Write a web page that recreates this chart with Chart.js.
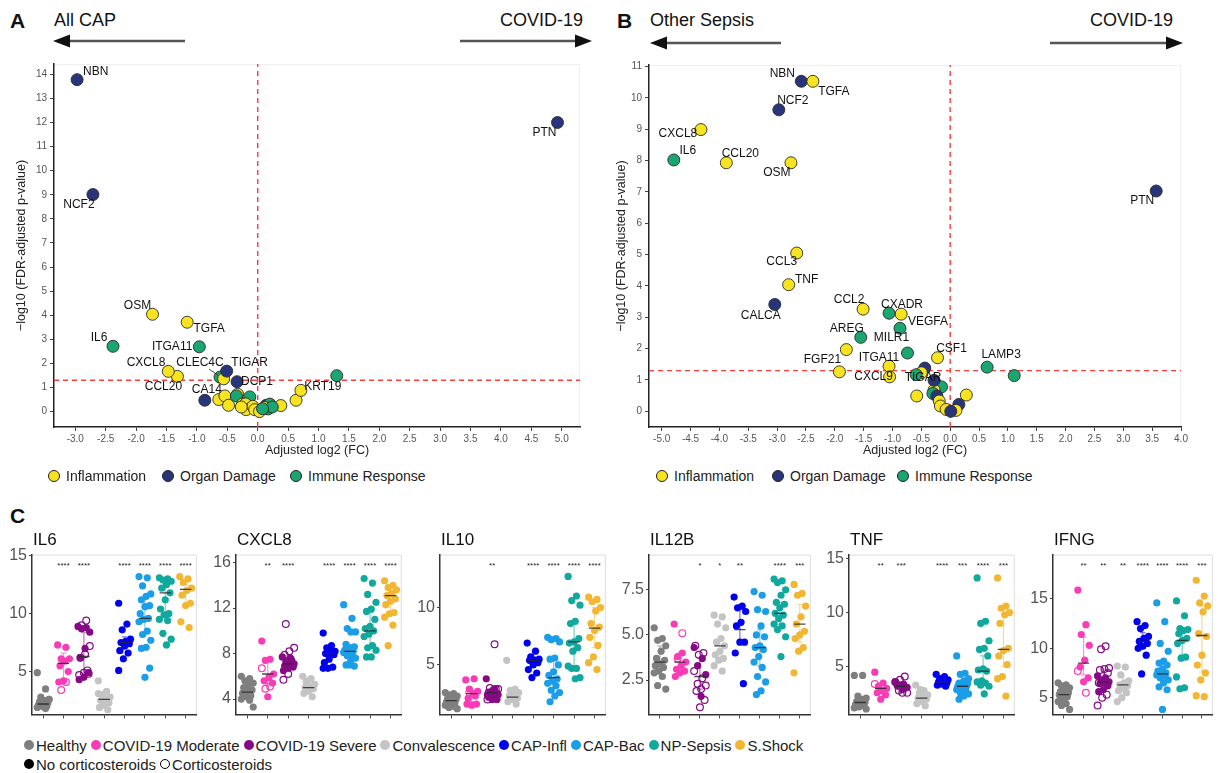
<!DOCTYPE html>
<html>
<head>
<meta charset="utf-8">
<title>COVID-19 vs CAP and sepsis biomarkers</title>
<script src="https://cdn.jsdelivr.net/npm/chart.js"></script>
<style>
  body { margin: 0; background: #fff; font-family: "Liberation Sans", Arial, sans-serif; color: #111; }
  #page { position: relative; width: 1218px; height: 773px; overflow: hidden; }
  #page canvas, .t { position: absolute; }
  .t { line-height: 1; white-space: nowrap; }
  .dot { display: inline-block; border-radius: 50%; box-sizing: border-box; flex: none; }
  .leg { position: absolute; display: flex; align-items: center; height: 16px; line-height: 1; white-space: nowrap; color: #222; }
</style>
</head>
<body>
<div id="page">
  <div class="t" style="left:10px;top:10px;font-size:21px;font-weight:bold">A</div>
  <div class="t" style="left:54px;top:11px;font-size:18px">All CAP</div>
  <div class="t" style="left:500px;top:11px;font-size:18px">COVID-19</div>
  <div class="t" style="left:617px;top:10px;font-size:21px;font-weight:bold">B</div>
  <div class="t" style="left:650px;top:11px;font-size:18px">Other Sepsis</div>
  <div class="t" style="left:1090px;top:11px;font-size:18px">COVID-19</div>
  <svg class="t" style="left:0;top:0" width="1218" height="60">
    <line x1="66" y1="41" x2="185" y2="41" stroke="#555" stroke-width="2.5"/>
    <polygon points="53,41 70,34.5 70,47.5" fill="#111"/>
    <line x1="460" y1="41" x2="578" y2="41" stroke="#555" stroke-width="2.5"/>
    <polygon points="592,41 575,34.5 575,47.5" fill="#111"/>
    <line x1="663" y1="43" x2="781" y2="43" stroke="#555" stroke-width="2.5"/>
    <polygon points="650,43 667,36.5 667,49.5" fill="#111"/>
    <line x1="1050" y1="43" x2="1168" y2="43" stroke="#555" stroke-width="2.5"/>
    <polygon points="1183,43 1166,36.5 1166,49.5" fill="#111"/>
  </svg>
  <div class="t" style="left:10px;top:505px;font-size:21px;font-weight:bold">C</div>
</div>
<script>
// ---------- panels A and B (volcano plots)
const catNames = ['Inflammation', 'Organ Damage', 'Immune Response'];
const catColors = ['#f8e41e', '#29357a', '#19a670'];
const pCut = 1.3;

const genesA = ['', '', '', '', '', '', '', '', '', '', '', '', '', '', '', '', '', '', '', '', '',
  'CA14', 'CLEC4C', '', 'DCP1', 'TIGAR', 'CCL20', 'CXCL8', 'ITGA11', 'IL6', 'TGFA', 'OSM', '', 'KRT19', 'NCF2', 'NBN', 'PTN'];
const fcA = [-0.64, -0.54, -0.48, -0.33, -0.35, -0.13, -0.25, -0.20, -0.19, -0.08, -0.05, 0.03, 0.14, 0.20, 0.17, 0.11, 0.38, 0.24, -0.27, 0.08, 0.63,
  -0.87, -0.62, -0.56, -0.34, -0.51, -1.32, -1.47, -0.96, -2.38, -1.16, -1.73, 1.30, 0.71, -2.71, -2.97, 4.93];
const pA = [0.50, 0.65, 0.26, 0.72, 0.65, 0.61, 0.31, 0.32, 0.08, 0.22, 0.08, 0.00, 0.26, 0.31, 0.11, 0.17, 0.25, 0.19, 0.19, 0.12, 0.47,
  0.47, 1.43, 1.36, 1.24, 1.68, 1.46, 1.67, 2.69, 2.71, 3.71, 4.04, 1.49, 0.88, 9.01, 13.78, 12.00];
const catA = [0, 0, 0, 0, 2, 2, 0, 0, 0, 0, 0, 0, 1, 2, 2, 0, 0, 2, 0, 2, 0,
  1, 2, 0, 1, 1, 0, 0, 2, 2, 0, 0, 2, 0, 1, 1, 1];
const xTicksA = [-3, -2.5, -2, -1.5, -1, -0.5, 0, 0.5, 1, 1.5, 2, 2.5, 3, 3.5, 4, 4.5, 5];
const yTicksA = [0, 1, 2, 3, 4, 5, 6, 7, 8, 9, 10, 11, 12, 13, 14];

const genesB = ['', '', '', '', '', '', '', '', '', '', '', '', '', '', '', '', '', '',
  'NBN', 'TGFA', 'NCF2', 'CXCL8', 'IL6', 'CCL20', 'OSM', 'PTN', 'CCL3', 'TNF', 'CALCA', 'CCL2', 'CXADR', 'VEGFA', 'AREG',
  'MILR1', 'CSF1', 'FGF21', 'ITGA11', 'CXCL9', 'LAMP3', 'TIGAR'];
const fcB = [-0.85, -1.80, 1.11, -0.44, -0.50, -0.59, -0.15, -0.28, -0.30, -0.23, -0.58, 0.28, -0.19, -0.17, 0.15, -0.07, 0.10, 0.01,
  -2.58, -2.38, -2.97, -4.32, -4.79, -3.88, -2.76, 3.57, -2.66, -2.80, -3.04, -1.51, -1.06, -0.87, -1.55,
  -0.74, -0.22, -1.92, -1.06, -1.05, 0.64, -0.28];
const pB = [3.10, 1.97, 1.14, 1.38, 1.23, 1.17, 0.78, 0.68, 0.57, 0.49, 0.49, 0.52, 0.33, 0.17, 0.22, 0.06, 0.03, 0.00,
  10.53, 10.53, 9.62, 8.99, 8.02, 7.93, 7.93, 7.03, 5.05, 4.04, 3.41, 3.26, 3.13, 2.65, 2.36,
  1.86, 1.71, 1.26, 1.44, 1.10, 1.41, 0.99];
const catB = [0, 0, 2, 1, 0, 2, 2, 0, 2, 1, 0, 0, 0, 0, 1, 0, 0, 1,
  1, 0, 1, 0, 2, 0, 0, 1, 0, 0, 1, 0, 2, 2, 2,
  2, 0, 0, 0, 0, 2, 1];
const xTicksB = [-5, -4.5, -4, -3.5, -3, -2.5, -2, -1.5, -1, -0.5, 0, 0.5, 1, 1.5, 2, 2.5, 3, 3.5, 4];
const yTicksB = [0, 1, 2, 3, 4, 5, 6, 7, 8, 9, 10, 11];

// label offsets in px from the point: [dx, dy, align, leader segment]
const labelPosA = {
  NBN: [6, -8, 'left'], NCF2: [-14, 10], PTN: [-13, 10], OSM: [-15, -9], TGFA: [22, 6], IL6: [-14, -9],
  ITGA11: [-7, 0, 'right'], CXCL8: [-3, -9, 'right'], CCL20: [-14, 10], CLEC4C: [-20, -14, 'center', [-11, -8, -2, -2]],
  TIGAR: [23, -8], DCP1: [4, 0, 'left'], CA14: [2, -11], KRT19: [22, -4]
};
const labelPosB = {
  NBN: [-19, -8], TGFA: [21, 10], NCF2: [14, -9], CXCL8: [-23, 4], IL6: [14, -9], CCL20: [14, -9], OSM: [-14, 10],
  PTN: [-14, 10], CCL3: [-15, 9], TNF: [18, -5], CALCA: [-14, 11], CCL2: [-14, -9], CXADR: [13, -9], VEGFA: [28, -7],
  AREG: [-14, -9], MILR1: [-16, -15], CSF1: [14, -9], FGF21: [-17, -12], ITGA11: [-10, -9], CXCL9: [-16, 0],
  TIGAR: [-11, -3], LAMP3: [14, -12]
};

// ---------- panel C (strip plots)
const groups = ['Healthy', 'COVID-19 Moderate', 'COVID-19 Severe', 'Convalescence', 'CAP-Infl', 'CAP-Bac', 'NP-Sepsis', 'S.Shock'];
const grpColors = ['#7f7f7f', '#f93cb5', '#860a86', '#c4c4c4', '#0000ee', '#1b9de8', '#11a89e', '#f2b632'];

const il6Filled = [
  [4.9, 3.5, 2.8, 2.6, 2.5, 2.4, 2.3, 2.2, 2.1, 2.0, 2.0, 1.9, 1.8, 2.3, 2.6],
  [7.3, 7.1, 6.1, 6.1, 5.9, 5.5, 5.0, 4.2, 4.1],
  [8.9, 8.8, 8.7, 8.4, 7.0, 6.2, 4.9, 4.5, 4.3],
  [4.2, 3.3, 3.0, 2.8, 2.6, 2.5, 2.3, 2.1, 1.9, 1.7, 2.9, 3.1],
  [10.9, 9.1, 8.6, 7.8, 7.6, 7.5, 7.4, 7.2, 6.8, 6.6, 6.1, 5.1],
  [13.2, 13.1, 12.4, 11.7, 11.5, 11.2, 10.7, 10.6, 10.0, 9.6, 9.5, 9.3, 8.5, 8.2, 7.7, 7.1, 7.0, 5.3, 4.5],
  [13.1, 13.0, 12.9, 12.8, 12.5, 12.2, 11.8, 11.2, 10.4, 10.0, 9.9, 9.5, 9.4, 8.3, 7.8, 7.3],
  [13.2, 13.0, 12.7, 12.2, 12.0, 11.6, 10.9, 10.7, 9.3, 8.8]
];
const il6Open = [[], [4.1, 3.4], [9.4, 9.0, 7.2, 6.5, 6.2, 4.8, 4.9, 4.7, 5.1], [], [], [], [], []];
const il6Med = [2.2, 5.7, 6.3, 2.6, 7.5, 9.6, 11.8, 12.1];
const il6Lo = [2.0, 4.3, 4.8, 2.2, 7.0, 8.3, 9.8, 10.7];
const il6Hi = [2.6, 6.6, 8.4, 3.1, 8.0, 11.3, 12.8, 12.5];
const il6Stars = ['', '****', '****', '', '****', '****', '****', '****'];
const il6Ticks = [5, 10, 15];

const cxcl8Filled = [
  [6.0, 5.8, 5.6, 5.4, 5.2, 5.0, 4.8, 4.6, 4.5, 4.3, 4.2, 4.0, 3.9, 4.7, 3.3],
  [9.1, 7.5, 7.4, 6.2, 5.9, 5.6, 5.4, 4.2],
  [7.7, 7.6, 7.3, 7.1, 7.0, 6.9, 6.8, 6.7, 6.5, 7.4],
  [6.0, 5.8, 5.5, 5.3, 5.1, 5.0, 4.9, 4.7, 4.5, 4.2, 5.6],
  [9.8, 8.7, 8.5, 8.2, 8.1, 8.0, 7.9, 7.5, 7.2, 6.8, 6.7, 6.7],
  [12.3, 11.1, 10.2, 9.9, 9.9, 8.8, 8.6, 8.5, 8.3, 8.2, 8.2, 8.1, 8.0, 7.8, 7.6, 7.4, 7.0, 6.9, 7.0],
  [14.6, 14.2, 13.2, 12.5, 11.9, 11.7, 11.0, 10.4, 10.2, 10.0, 9.7, 9.5, 8.7, 8.5, 8.3, 7.7, 7.7],
  [14.4, 14.0, 13.8, 13.6, 13.3, 13.1, 12.8, 12.6, 12.3, 11.6, 11.5, 11.2, 10.5, 8.7]
];
const cxcl8Open = [[], [6.7, 5.1, 4.9], [10.6, 8.5, 8.2, 7.9, 6.9, 6.2, 5.7], [], [], [], [], []];
const cxcl8Med = [4.6, 6.2, 7.1, 5.0, 8.0, 8.2, 10.0, 13.1];
const cxcl8Lo = [4.3, 5.2, 6.7, 4.6, 7.4, 7.7, 8.7, 11.5];
const cxcl8Hi = [5.2, 7.3, 7.8, 5.4, 8.4, 8.8, 11.7, 13.9];
const cxcl8Stars = ['', '**', '****', '', '****', '****', '****', '****'];
const cxcl8Ticks = [4, 8, 12, 16];

const il10Filled = [
  [2.6, 2.5, 2.4, 2.3, 2.2, 2.1, 2.0, 1.9, 1.8, 1.7, 1.6, 1.5, 1.4, 1.3, 1.2],
  [3.7, 3.8, 2.9, 2.7, 2.5, 2.1, 1.6, 1.5, 1.6, 2.3],
  [3.8, 2.9, 2.6, 2.4, 2.3, 2.2, 2.0, 2.0, 2.4],
  [5.4, 2.9, 2.8, 2.6, 2.4, 2.3, 2.1, 2.0, 1.8, 1.6, 2.2],
  [6.9, 6.2, 5.7, 5.5, 5.4, 5.4, 5.2, 5.0, 4.6, 4.3, 3.9],
  [7.4, 7.3, 7.2, 7.0, 5.6, 5.5, 5.0, 4.4, 4.1, 3.8, 3.6, 3.4, 3.2, 2.8, 2.6, 2.3, 1.8],
  [12.7, 11.0, 10.6, 10.2, 8.8, 8.6, 7.3, 7.0, 6.9, 6.5, 6.2, 4.9, 4.7, 4.7, 3.9, 3.8],
  [10.9, 10.7, 10.5, 10.0, 9.7, 8.6, 8.3, 8.0, 7.4, 6.7, 5.7, 5.2, 4.6]
];
const il10Open = [[], [2.6], [6.8, 3.0, 2.9, 2.8, 2.6, 2.5, 2.2, 2.0, 2.9], [], [], [], [], []];
const il10Med = [1.9, 2.5, 2.6, 2.2, 5.4, 3.9, 7.0, 8.2];
const il10Lo = [1.6, 1.8, 2.2, 1.9, 4.8, 3.0, 4.7, 6.5];
const il10Hi = [2.3, 2.9, 2.9, 2.7, 5.7, 5.5, 8.8, 10.0];
const il10Stars = ['', '', '**', '', '****', '****', '****', '****'];
const il10Ticks = [5, 10];

const il12bFilled = [
  [5.4, 4.8, 4.7, 4.4, 4.1, 3.7, 3.6, 3.4, 3.3, 3.2, 3.0, 2.9, 2.7, 2.2, 2.0],
  [5.6, 4.0, 3.8, 3.5, 3.3, 3.1, 3.0, 2.9, 2.7],
  [4.3, 3.7, 3.3, 2.8, 1.6],
  [6.1, 6.0, 5.6, 5.4, 4.8, 4.6, 4.4, 4.1, 3.9, 3.7, 3.6, 3.3, 3.0],
  [7.1, 6.6, 6.5, 6.3, 5.7, 5.5, 4.6, 4.6, 4.0, 2.3],
  [7.4, 7.2, 6.4, 6.3, 5.5, 5.0, 4.9, 4.4, 4.3, 4.2, 3.8, 3.5, 3.2, 2.7, 2.4, 1.9, 1.7],
  [8.1, 8.0, 7.9, 7.5, 7.2, 6.8, 6.7, 6.5, 6.2, 6.1, 5.9, 5.6, 5.5, 5.3, 4.9, 3.8],
  [7.8, 7.3, 7.2, 6.6, 6.0, 5.6, 5.2, 5.0, 4.8, 4.3, 4.1, 2.9]
];
const il12bOpen = [[], [5.1, 3.7], [4.4, 4.0, 3.9, 3.0, 2.6, 2.3, 2.2, 2.0, 1.9, 1.4, 1.0], [], [], [], [], []];
const il12bMed = [3.5, 3.5, 2.7, 4.4, 5.3, 4.3, 6.2, 5.6];
const il12bLo = [3.0, 3.0, 2.0, 3.7, 4.6, 3.3, 5.6, 4.6];
const il12bHi = [4.4, 4.0, 3.7, 4.9, 6.4, 5.3, 6.8, 6.7];
const il12bStars = ['', '', '*', '*', '**', '', '****', '***'];
const il12bTicks = [2.5, 5.0, 7.5];

const tnfFilled = [
  [4.2, 4.2, 2.3, 2.1, 1.9, 1.8, 1.7, 1.6, 1.5, 1.4, 1.3, 1.2, 2.0, 1.7, 1.1],
  [4.5, 3.5, 3.2, 3.0, 2.8, 2.6, 2.4, 2.0],
  [3.6, 3.4, 3.3, 3.1, 2.9, 3.2],
  [3.3, 2.8, 2.6, 2.4, 2.2, 2.1, 2.0, 1.8, 1.6, 1.4, 2.9],
  [4.3, 4.1, 3.9, 3.8, 3.7, 3.6, 3.5, 3.4, 3.3, 3.2, 3.6],
  [6.0, 4.4, 4.3, 3.9, 3.7, 3.5, 3.4, 3.3, 3.2, 3.1, 3.0, 2.9, 2.8, 2.6, 2.5, 2.3, 2.0, 3.6, 2.7],
  [13.2, 9.2, 9.0, 7.4, 6.7, 6.6, 6.0, 4.8, 4.7, 4.6, 3.7, 3.6, 3.5, 3.3, 3.2, 2.5],
  [13.2, 10.6, 10.4, 10.0, 9.8, 9.0, 6.7, 6.5, 6.0, 5.2, 4.1, 3.9, 2.3]
];
const tnfOpen = [[], [3.4], [4.1, 3.8, 3.6, 3.0, 2.8, 2.6, 2.6, 3.3], [], [], [], [], []];
const tnfMed = [1.7, 3.0, 3.2, 2.1, 3.6, 3.2, 4.6, 6.6];
const tnfLo = [1.4, 2.6, 2.8, 1.7, 3.4, 2.7, 3.5, 5.0];
const tnfHi = [2.2, 3.5, 3.6, 2.6, 3.9, 3.6, 6.0, 9.9];
const tnfStars = ['', '**', '***', '', '****', '***', '****', '***'];
const tnfTicks = [5, 10, 15];

const ifngFilled = [
  [6.5, 6.3, 6.2, 6.0, 5.8, 5.6, 5.5, 5.4, 5.3, 5.1, 4.9, 4.6, 4.4, 4.2, 3.8],
  [15.9, 12.4, 11.4, 10.3, 8.8, 8.1, 7.0, 6.6],
  [7.2, 7.0, 6.8, 6.6, 6.5, 6.4, 6.2, 5.8, 5.6],
  [8.2, 8.1, 7.3, 6.7, 6.5, 6.3, 6.2, 6.0, 5.7, 5.5, 5.0, 4.6],
  [12.7, 12.3, 12.0, 11.2, 11.0, 10.7, 10.5, 10.2, 10.0, 9.3, 7.4],
  [14.6, 12.7, 10.5, 9.7, 8.7, 8.5, 8.3, 7.9, 7.7, 7.5, 7.4, 7.3, 7.2, 7.0, 6.8, 6.5, 6.1, 5.8, 3.8],
  [14.8, 13.3, 12.0, 11.9, 11.8, 11.5, 11.0, 10.8, 10.5, 9.1, 9.0, 7.1, 6.0, 5.9],
  [16.9, 15.3, 14.6, 14.3, 13.7, 11.5, 11.2, 9.3, 8.3, 7.5, 6.8, 5.2, 5.1]
];
const ifngOpen = [[], [7.7, 5.5], [10.2, 9.9, 8.0, 7.9, 7.8, 7.5, 6.6, 6.5, 5.3, 5.0, 4.2], [], [], [], [], []];
const ifngMed = [5.3, 8.5, 6.6, 6.3, 10.7, 7.4, 10.8, 11.3];
const ifngLo = [4.8, 7.3, 5.8, 5.5, 10.0, 7.0, 9.4, 7.6];
const ifngHi = [5.9, 11.1, 7.9, 7.2, 11.6, 8.6, 11.9, 14.3];
const ifngStars = ['', '**', '**', '**', '****', '****', '****', '***'];
const ifngTicks = [5, 10, 15];

// ---------- setup
const FONT = '"Liberation Sans", Arial, sans-serif';
Chart.defaults.font.family = FONT;
const page = document.getElementById('page');

function addCanvas(left, top, w, h) {
  const c = document.createElement('canvas');
  c.width = w; c.height = h;
  c.style.left = left + 'px'; c.style.top = top + 'px';
  c.style.width = w + 'px'; c.style.height = h + 'px';
  page.appendChild(c);
  return c;
}

function fade(hex, a) {
  const n = parseInt(hex.slice(1), 16);
  return `rgba(${n >> 16},${(n >> 8) & 255},${n & 255},${a})`;
}

// light top/right panel border
function frame(color) {
  return {
    id: 'frame',
    beforeDraw(chart) {
      const a = chart.chartArea, ctx = chart.ctx;
      ctx.save();
      ctx.strokeStyle = color; ctx.lineWidth = 1;
      ctx.beginPath();
      ctx.moveTo(a.left, a.top + 0.5); ctx.lineTo(a.right - 0.5, a.top + 0.5); ctx.lineTo(a.right - 0.5, a.bottom);
      ctx.stroke();
      ctx.restore();
    }
  };
}

function geneLabels(genes, pos) {
  return {
    id: 'geneLabels',
    afterDatasetsDraw(chart) {
      const ctx = chart.ctx, meta = chart.getDatasetMeta(0);
      ctx.save();
      ctx.font = '12px ' + FONT;
      ctx.fillStyle = '#111';
      ctx.strokeStyle = '#222';
      ctx.lineWidth = 0.8;
      ctx.textBaseline = 'middle';
      genes.forEach((g, i) => {
        if (!g) return;
        const pt = meta.data[i], o = pos[g] || [0, -11];
        ctx.textAlign = o[2] || 'center';
        ctx.fillText(g, pt.x + o[0], pt.y + o[1]);
        if (o[3]) {
          ctx.beginPath();
          ctx.moveTo(pt.x + o[3][0], pt.y + o[3][1]);
          ctx.lineTo(pt.x + o[3][2], pt.y + o[3][3]);
          ctx.stroke();
        }
      });
      ctx.restore();
    }
  };
}

function volcano(cv, genes, fc, p, cat, pos, ax) {
  const red = { type: 'line', borderColor: '#ff3b3b', borderWidth: 1.4, borderDash: [5, 4], pointRadius: 0, order: 2 };
  return new Chart(cv, {
    type: 'scatter',
    data: {
      datasets: [
        { data: fc.map((v, i) => ({ x: v, y: p[i] })), backgroundColor: cat.map(c => catColors[c]),
          borderColor: '#2a2a2a', borderWidth: 0.9, pointRadius: 6, order: 1 },
        Object.assign({ data: [{ x: 0, y: ax.ymin }, { x: 0, y: ax.ymax }] }, red),
        Object.assign({ data: [{ x: ax.xmin, y: pCut }, { x: ax.xmax, y: pCut }] }, red)
      ]
    },
    options: {
      responsive: false, devicePixelRatio: 1, animation: false,
      layout: { padding: { top: ax.pt, right: ax.pr, left: 0, bottom: 0 } },
      plugins: { legend: { display: false }, tooltip: { enabled: false } },
      scales: {
        x: {
          type: 'linear', min: ax.xmin, max: ax.xmax,
          afterBuildTicks: s => { s.ticks = ax.xt.map(v => ({ value: v })); },
          afterFit: s => { s.height = 33; },
          ticks: { autoSkip: false, maxRotation: 0, font: { size: 10 }, color: '#555', padding: 2, callback: v => v.toFixed(1) },
          grid: { drawOnChartArea: false, tickLength: 4, color: '#444' },
          border: { color: '#222', width: 1.5 },
          title: { display: true, text: 'Adjusted log2 (FC)', font: { size: 12.5 }, color: '#222', padding: { top: 0, bottom: 1.5 } }
        },
        y: {
          type: 'linear', min: ax.ymin, max: ax.ymax,
          afterBuildTicks: s => { s.ticks = ax.yt.map(v => ({ value: v })); },
          afterFit: s => { s.width = ax.yw; },
          ticks: { font: { size: 10 }, color: '#555', padding: 3 },
          grid: { drawOnChartArea: false, tickLength: 4, color: '#444' },
          border: { color: '#222', width: 1.5 },
          title: { display: true, text: '\u2212log10 (FDR-adjusted p-value)', font: { size: 12.5 }, color: '#222', padding: { top: ax.tp, bottom: 0 } }
        }
      }
    },
    plugins: [frame('#eeeeee'), geneLabels(genes, pos)]
  });
}

volcano(addCanvas(8, 50, 584, 410), genesA, fcA, pA, catA, labelPosA,
  { xmin: -3.35, xmax: 5.3, ymin: -0.64, ymax: 14.43, xt: xTicksA, yt: yTicksA, pt: 14, pr: 12, yw: 46, tp: 6.5 });
volcano(addCanvas(612, 50, 581, 410), genesB, fcB, pB, catB, labelPosB,
  { xmin: -5.22, xmax: 4.0, ymin: -0.5, ymax: 11.05, xt: xTicksB, yt: yTicksB, pt: 15, pr: 12, yw: 37, tp: 2.5 });

// ---------- strip plots
function starLabels(stars) {
  return {
    id: 'stars',
    afterDatasetsDraw(chart) {
      const xs = chart.scales.x, ctx = chart.ctx;
      ctx.save();
      ctx.font = '8px ' + FONT;
      ctx.fillStyle = '#222';
      ctx.textAlign = 'center'; ctx.textBaseline = 'middle';
      stars.forEach((s, i) => { if (s) ctx.fillText(s, xs.getPixelForValue(i + 1), chart.chartArea.top + 11); });
      ctx.restore();
    }
  };
}

const jitter = i => (((i * 7) % 11) - 5) * 0.058;

function strip(cv, pn) {
  const ds = [];
  const med = [];
  groups.forEach((g, gi) => {
    const x0 = gi + 1, nF = pn.filled[gi].length;
    ds.push({ data: pn.filled[gi].map((v, i) => ({ x: x0 + jitter(i), y: v })),
      backgroundColor: grpColors[gi], borderWidth: 0, pointRadius: 3.6, order: 2 });
    if (pn.open[gi].length) {
      ds.push({ data: pn.open[gi].map((v, i) => ({ x: x0 + jitter(i + nF + 3), y: v })),
        backgroundColor: 'rgba(255,255,255,0)', borderColor: grpColors[gi], borderWidth: 1.2, pointRadius: 3.4, order: 2 });
    }
    const c = 0.14, hi = pn.hi[gi], lo = pn.lo[gi];
    ds.push({ type: 'line', data: [{ x: x0 - c, y: hi }, { x: x0 + c, y: hi }, { x: x0, y: null }, { x: x0, y: hi }, { x: x0, y: lo },
      { x: x0, y: null }, { x: x0 - c, y: lo }, { x: x0 + c, y: lo }],
      borderColor: fade(grpColors[gi], 0.55), borderWidth: 1.2, pointRadius: 0, order: 1 });
    med.push({ x: x0 - 0.28, y: pn.med[gi] }, { x: x0 + 0.28, y: pn.med[gi] }, { x: x0, y: null });
  });
  ds.push({ type: 'line', data: med, borderColor: 'rgba(40,40,40,0.85)', borderWidth: 1.3, pointRadius: 0, order: 0 });

  return new Chart(cv, {
    type: 'scatter',
    data: { datasets: ds },
    options: {
      responsive: false, devicePixelRatio: 1, animation: false,
      layout: { padding: { top: 9, right: pn.pr, left: 0, bottom: 0 } },
      plugins: { legend: { display: false }, tooltip: { enabled: false } },
      scales: {
        x: {
          type: 'linear', min: 0.45, max: 8.55,
          afterBuildTicks: s => { s.ticks = groups.map((g, i) => ({ value: i + 1 })); },
          afterFit: s => { s.height = 6; },
          ticks: { display: false },
          grid: { drawOnChartArea: false, tickLength: 4, color: '#444' },
          border: { color: '#333', width: 1.5 }
        },
        y: {
          type: 'linear', min: pn.ymin, max: pn.ymax,
          afterBuildTicks: s => { s.ticks = pn.ticks.map(v => ({ value: v })); },
          afterFit: s => { s.width = 30; },
          ticks: { font: { size: 16 }, color: '#555', padding: 2, callback: v => pn.dec ? v.toFixed(1) : String(v) },
          grid: { drawOnChartArea: false, tickLength: 3, color: '#444' },
          border: { color: '#333', width: 1.5 }
        }
      }
    },
    plugins: [frame('#dddddd'), starLabels(pn.stars)]
  });
}

const stripPanels = [
  { title: 'IL6', left: 2, width: 200, pr: 2, ymin: 1.3, ymax: 15.1, ticks: il6Ticks,
    filled: il6Filled, open: il6Open, med: il6Med, lo: il6Lo, hi: il6Hi, stars: il6Stars },
  { title: 'CXCL8', left: 206, width: 201, pr: 2, ymin: 2.65, ymax: 16.7, ticks: cxcl8Ticks,
    filled: cxcl8Filled, open: cxcl8Open, med: cxcl8Med, lo: cxcl8Lo, hi: cxcl8Hi, stars: cxcl8Stars },
  { title: 'IL10', left: 410, width: 201, pr: 2, ymin: 0.7, ymax: 14.6, ticks: il10Ticks,
    filled: il10Filled, open: il10Open, med: il10Med, lo: il10Lo, hi: il10Hi, stars: il10Stars },
  { title: 'IL12B', left: 619, width: 197, pr: 2, ymin: 0.6, ymax: 9.45, ticks: il12bTicks, dec: true,
    filled: il12bFilled, open: il12bOpen, med: il12bMed, lo: il12bLo, hi: il12bHi, stars: il12bStars },
  { title: 'TNF', left: 819, width: 201, pr: 2, ymin: 0.6, ymax: 15.35, ticks: tnfTicks,
    filled: tnfFilled, open: tnfOpen, med: tnfMed, lo: tnfLo, hi: tnfHi, stars: tnfStars },
  { title: 'IFNG', left: 1023, width: 195, pr: 1, ymin: 3.3, ymax: 19.5, ticks: ifngTicks,
    filled: ifngFilled, open: ifngOpen, med: ifngMed, lo: ifngLo, hi: ifngHi, stars: ifngStars }
];

stripPanels.forEach(pn => {
  strip(addCanvas(pn.left, 543, pn.width, 183), pn);
  const t = document.createElement('div');
  t.className = 't';
  t.style.cssText = `left:${pn.left + 31}px;top:531px;font-size:17px`;
  t.textContent = pn.title;
  page.appendChild(t);
});

// ---------- legends
function legendItem(parent, left, top, size, fill, border, text, fs, gap) {
  const d = document.createElement('div');
  d.className = 'leg';
  d.style.left = left + 'px'; d.style.top = top + 'px'; d.style.fontSize = fs + 'px';
  if (left === null) { d.style.position = 'static'; d.style.marginRight = gap + 'px'; }
  const s = document.createElement('span');
  s.className = 'dot';
  s.style.cssText = `width:${size}px;height:${size}px;background:${fill};border:${border};margin-right:${size > 11 ? 6 : 2}px`;
  d.appendChild(s);
  d.appendChild(document.createTextNode(text));
  parent.appendChild(d);
}
[48, 162, 290].forEach((x, i) => legendItem(page, x, 468, 12, catColors[i], '1px solid #222', catNames[i], 14));
[656, 772, 897].forEach((x, i) => legendItem(page, x, 468, 12, catColors[i], '1px solid #222', catNames[i], 14));

function legendRow(top, items) {
  const row = document.createElement('div');
  row.className = 'leg';
  row.style.left = '24px'; row.style.top = top + 'px';
  items.forEach(it => legendItem(row, null, 0, 10, it[0], it[1], it[2], 15, 4));
  page.appendChild(row);
}
legendRow(737, groups.map((g, i) => [grpColors[i], 'none', g]));
legendRow(756, [['#000', 'none', 'No corticosteroids'], ['#fff', '1px solid #000', 'Corticosteroids']]);
</script>
</body>
</html>
